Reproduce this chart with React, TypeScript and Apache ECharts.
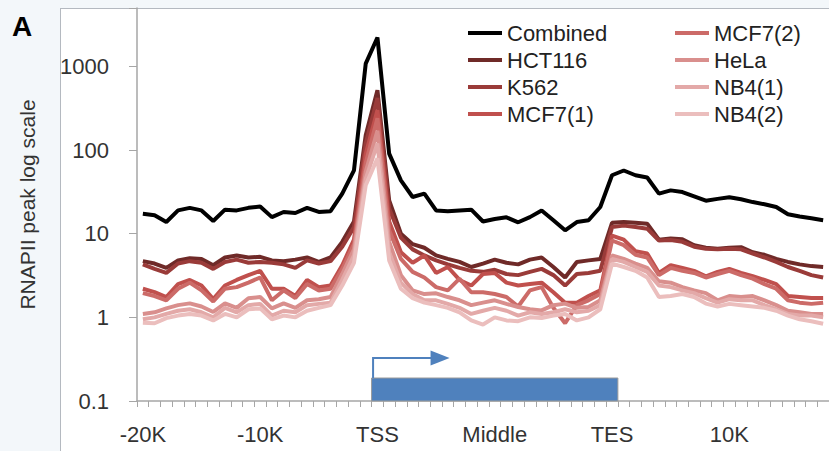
import React, { useEffect, useRef } from "react";
import * as echarts from "echarts";

// ---- Data ----
const upstream = Array.from({ length: 20 }, (_, i) => `${i - 20}K`); // -20K .. -1K
const body = Array.from({ length: 19 }, (_, i) => (i + 1 === 10 ? "Middle" : `Body${i + 1}`));
const downstream = Array.from({ length: 18 }, (_, i) => `${i + 1}K`); // 1K .. 18K
const categories = [...upstream, "TSS", ...body, "TES", ...downstream];

const seriesNames = ["Combined", "HCT116", "K562", "MCF7(1)", "MCF7(2)", "HeLa", "NB4(1)", "NB4(2)"];
const seriesColors = ["#000000", "#6f2a28", "#9a3b39", "#c0504d", "#cc6b68", "#d98f8d", "#e3a9a8", "#ebbebd"];

const combined = [17.3, 16.6, 13.8, 19.0, 20.4, 19.0, 14.2, 19.4, 19.0, 20.4, 21.2, 15.8, 18.2, 17.7, 20.4, 18.2, 18.6, 30.2, 57.3, 1080, 2220, 90.8, 43.5, 27.5, 30.2, 19.0, 18.6, 19.0, 19.4, 14.0, 15.0, 15.7, 13.7, 15.8, 19.0, 14.5, 11.0, 13.8, 14.5, 20.9, 50, 57, 50, 47, 30.2, 33, 31.5, 28, 24.8, 26.1, 27.3, 25.8, 23.9, 22.5, 20.9, 17.1, 16.1, 15.3, 14.5];
const hct116 = [4.7, 4.4, 3.9, 4.8, 5.1, 5.0, 4.2, 5.2, 5.5, 5.2, 5.3, 4.8, 4.7, 4.9, 5.2, 4.6, 5.2, 8, 14, 150, 520, 25, 10, 7.5, 6.8, 5.5, 5.0, 4.6, 4.0, 4.4, 4.9, 4.5, 4.3, 4.9, 5.2, 4.0, 3.0, 4.6, 4.8, 5.0, 13.5, 13.8, 13.5, 13.2, 8.5, 8.8, 8.6, 7.3, 6.8, 6.6, 6.8, 6.9, 6.0, 5.6, 5.0, 4.6, 4.3, 4.1, 4.0];
const k562 = [4.3, 3.8, 3.4, 4.4, 4.7, 4.5, 3.8, 4.6, 4.9, 4.5, 4.6, 4.5, 4.3, 3.9, 4.8, 4.4, 4.7, 7, 12, 120, 420, 20, 9, 6.5, 5.5, 4.8, 4.3, 3.9, 3.6, 3.5, 3.7, 3.3, 3.2, 3.5, 3.8, 3.2, 2.4, 3.3, 3.4, 3.6, 12, 12.5, 12, 11.5, 8.3, 8.4, 8.0, 7.0, 6.6, 6.5, 6.6, 6.5, 5.8, 5.2, 4.6, 4.0, 3.6, 3.2, 3.0];
const mcf7a = [2.2, 2.0, 1.75, 2.5, 2.8, 2.4, 1.65, 2.4, 2.8, 3.2, 3.6, 2.2, 2.2, 1.8, 2.8, 2.3, 2.4, 4.2, 8.5, 90, 300, 14, 6, 4.5, 5.5, 3.4, 4.0, 2.8, 2.4, 3.3, 3.4, 2.6, 2.4, 2.5, 2.6, 2.0, 1.5, 1.5, 1.8, 2.1, 9.5, 8.5, 6.2, 5.8, 3.4, 4.2, 3.9, 3.6, 3.1, 3.5, 3.8, 3.4, 3.1, 2.8, 2.5, 1.8, 1.75, 1.7, 1.7];
const mcf7b = [1.95, 1.8, 1.6, 2.2, 2.6, 2.1, 1.55, 2.2, 2.3, 2.6, 3.0, 1.6, 2.1, 1.7, 2.5, 2.1, 2.2, 3.8, 7.5, 70, 240, 11, 5, 3.5, 3.0, 2.3, 2.1, 2.9, 2.0, 2.0, 1.9, 1.75, 1.35, 2.1, 2.3, 1.3, 0.85, 1.4, 1.6, 1.9, 8.3, 7.3, 5.6, 5.2, 3.2, 3.9, 3.6, 3.4, 3.0, 3.3, 3.6, 3.2, 2.9, 2.5, 2.2, 1.6, 1.5, 1.45, 1.5];
const hela = [1.1, 1.15, 1.28, 1.4, 1.47, 1.35, 1.16, 1.47, 1.3, 1.69, 1.75, 1.28, 1.47, 1.3, 1.6, 1.65, 1.75, 3.3, 6.5, 55, 170, 8, 3.2, 2.1, 1.9, 1.94, 1.75, 1.6, 1.4, 1.5, 1.6, 1.45, 1.33, 1.25, 1.21, 1.4, 1.46, 1.3, 1.33, 1.6, 5.5, 5.0, 4.4, 3.9, 2.7, 2.6, 2.3, 2.1, 1.95, 1.6, 1.8, 1.75, 1.8, 1.6, 1.4, 1.2, 1.15, 1.1, 1.1];
const nb4a = [0.95, 1.0, 1.1, 1.2, 1.25, 1.15, 1.0, 1.3, 1.15, 1.4, 1.45, 1.05, 1.2, 1.15, 1.4, 1.45, 1.5, 2.8, 5.5, 45, 120, 6, 2.6, 1.9, 1.6, 1.6, 1.45, 1.3, 1.1, 1.2, 1.3, 1.2, 1.05, 1.15, 1.1, 1.15, 1.25, 1.15, 1.2, 1.4, 5.0, 4.6, 4.0, 3.5, 2.4, 2.3, 2.1, 1.95, 1.7, 1.5, 1.65, 1.6, 1.6, 1.4, 1.25, 1.1, 1.05, 1.05, 1.0];
const nb4b = [0.86, 0.85, 0.98, 1.05, 1.1, 1.05, 0.92, 1.1, 1.0, 1.25, 1.28, 0.95, 1.05, 1.0, 1.2, 1.3, 1.4, 2.4, 4.5, 38, 80, 4.8, 2.2, 1.7, 1.5, 1.4, 1.3, 1.15, 0.92, 0.82, 1.0, 0.92, 0.9, 1.0, 0.98, 1.05, 1.1, 0.92, 1.0, 1.25, 4.4, 4.0, 3.6, 3.0, 1.75, 1.8, 1.9, 1.75, 1.46, 1.35, 1.45, 1.4, 1.35, 1.3, 1.2, 1.05, 0.95, 0.9, 0.84];

const seriesValues = [combined, hct116, k562, mcf7a, mcf7b, hela, nb4a, nb4b];

const yTicks = [0.1, 1, 10, 100, 1000];
const yMin = 0.1;
const yMax = 5000;
const geneSpan = [categories.indexOf("TSS"), categories.indexOf("TES")];

export default function App() {
  const ref = useRef<HTMLDivElement>(null);

  useEffect(() => {
    if (!ref.current) return;
    const chart = echarts.init(ref.current, undefined, { renderer: "svg" });
    const font = "Liberation Sans, Arial, sans-serif";

    const lineSeries = seriesNames.map((name, i) => ({
      name,
      type: "line",
      data: seriesValues[i],
      symbol: "none",
      color: seriesColors[i],
      lineStyle: { width: 4, color: seriesColors[i] },
      z: i === 0 ? 4 : 3,
    }));
    // draw colored first, combined last
    const ordered = [...lineSeries.slice(1), lineSeries[0]];

    const legendCommon = {
      orient: "vertical",
      top: 22,
      padding: 0,
      icon: "rect",
      itemWidth: 34,
      itemHeight: 4,
      itemGap: 5,
      textStyle: { fontSize: 22, lineHeight: 22, color: "#222", fontFamily: font },
    };

    chart.setOption({
      animation: false,
      textStyle: { fontFamily: font },
      grid: { left: 137, top: 8, right: -2, bottom: 50, containLabel: false },
      legend: [
        { ...legendCommon, data: seriesNames.slice(0, 4), left: 468 },
        { ...legendCommon, data: seriesNames.slice(4), left: 675 },
      ],
      xAxis: {
        type: "category",
        data: categories,
        boundaryGap: true,
        axisLine: { lineStyle: { color: "#a6a6a6", width: 1.5 } },
        axisTick: { show: true, interval: 0, length: 6, lineStyle: { color: "#a6a6a6" } },
        axisLabel: {
          interval: 9,
          margin: 22,
          fontSize: 22,
          color: "#333",
          fontFamily: font,
          formatter: (v: string) => (v.startsWith("Body") ? "" : v),
        },
        splitLine: { show: false },
      },
      yAxis: {
        type: "log",
        logBase: 10,
        min: yMin,
        max: yMax,
        name: "RNAPII peak log scale",
        nameLocation: "middle",
        nameGap: 99,
        nameRotate: 90,
        nameTextStyle: { fontSize: 21, color: "#333", fontFamily: font },
        axisLine: { show: true, lineStyle: { color: "#a6a6a6", width: 1.5 } },
        axisTick: { show: true, length: 8, lineStyle: { color: "#a6a6a6" } },
        axisLabel: {
          margin: 28,
          fontSize: 22,
          color: "#333",
          fontFamily: font,
          formatter: (v: number) => {
            const hit = yTicks.find((t) => Math.abs(Math.log10(v) - Math.log10(t)) < 1e-6);
            return hit !== undefined ? String(hit) : "";
          },
        },
        splitLine: { show: false },
      },
      graphic: [
        {
          type: "text",
          left: 12,
          top: 12,
          style: { text: "A", fontSize: 28, fontWeight: "bold", fill: "#000", fontFamily: font },
        },
      ],
      series: [
        ...ordered,
        {
          type: "custom",
          name: "gene",
          silent: true,
          z: 1,
          data: [geneSpan],
          renderItem: (params: any, api: any) => {
            const s = api.coord([api.value(0), yMin]);
            const e = api.coord([api.value(1), yMin]);
            const n = api.coord([api.value(0) + 1, yMin]);
            const band = n[0] - s[0];
            const x0 = s[0] - band / 2;
            const x1 = e[0] + band / 2;
            const yb = s[1];
            const color = "#4f81bd";
            return {
              type: "group",
              children: [
                {
                  type: "rect",
                  shape: { x: x0, y: yb - 23, width: x1 - x0, height: 23 },
                  style: { fill: color, stroke: "#9a9a9a", lineWidth: 1 },
                },
                {
                  type: "polyline",
                  shape: { points: [[x0 + 1.5, yb - 23], [x0 + 1.5, yb - 43], [x0 + 60, yb - 43]] },
                  style: { stroke: color, lineWidth: 2, fill: "none" },
                },
                {
                  type: "polygon",
                  shape: { points: [[x0 + 59, yb - 50.5], [x0 + 78, yb - 43], [x0 + 59, yb - 35.5]] },
                  style: { fill: color },
                },
              ],
            };
          },
        },
      ],
    });
    return () => chart.dispose();
  }, []);

  return (
    <div style={{ position: "fixed", left: 0, top: 0, width: 829, height: 451, background: "#f3f7fa", overflow: "hidden" }}>
      <div
        style={{
          position: "absolute",
          left: 60,
          top: 8,
          width: 800,
          height: 460,
          background: "#ffffff",
          borderTop: "1px solid #b4b9c0",
          borderLeft: "1px solid #b4b9c0",
        }}
      />
      <div ref={ref} style={{ position: "absolute", left: 0, top: 0, width: 829, height: 451 }} />
    </div>
  );
}
